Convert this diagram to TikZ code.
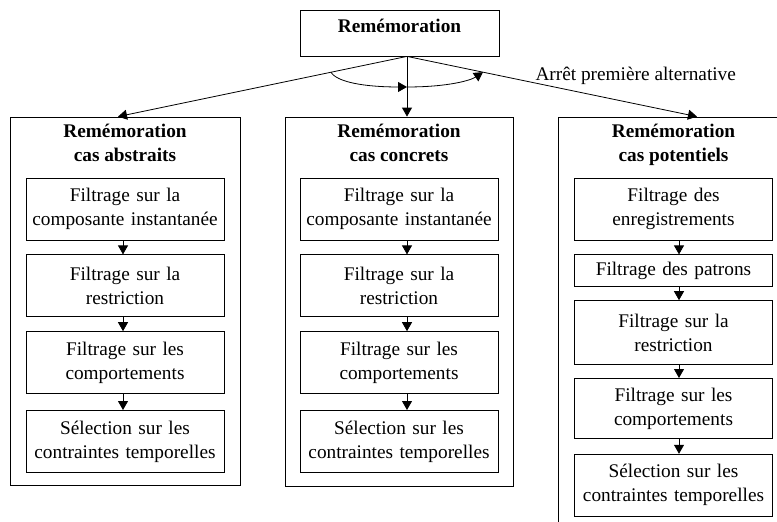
\documentclass[tikz,border=0pt]{standalone}
\usepackage{fontspec}
\setmainfont{Liberation Serif}
\usetikzlibrary{positioning,arrows.meta}

\begin{document}
\begin{tikzpicture}
[x=1pt, y=-1pt,
every node/.style={font=\fontsize{19.3}{24}\selectfont},
topnode/.style={rectangle, draw, line width=0.8pt, minimum width=199pt, inner sep=0pt, text height=22pt, text depth=24pt, font=\fontsize{19.3}{24}\selectfont\bfseries},
colnode/.style={rectangle, draw, line width=0.8pt, minimum width=230pt, minimum height=368pt},
titlenode/.style={align=center, inner sep=0pt, font=\fontsize{19.3}{24}\selectfont\bfseries},
filternode/.style={rectangle, draw, line width=0.8pt, text width=190pt, inner sep=4pt, align=center, minimum height=62pt},
arr/.style={-{Triangle[length=9pt, width=10pt]}, line width=0.8pt},
]
\useasboundingbox (0,0) rectangle (777,522);
\clip (0,0) rectangle (777,522);

\node[topnode] (rem) at (399.5,33) {Remémoration};

% les trois colonnes
\node[colnode] (abs) at (125,301) {};
\node[colnode, minimum width=228pt, minimum height=369pt] (con) at (399,301.5) {};
\node[colnode, minimum height=418pt] (pot) at (673.5,326) {};

\node[titlenode] (tabs) [below=7.5pt of abs.north] {Remémoration\\cas abstraits};
\node[titlenode] (tcon) [below=7.5pt of con.north] {Remémoration\\cas concrets};
\node[titlenode] (tpot) [below=7.5pt of pot.north] {Remémoration\\cas potentiels};

% cas abstraits
\node[filternode] (abs1) [below=61pt of abs.north] {Filtrage sur la\\composante instantanée};
\node[filternode] (abs2) [below=14pt of abs1] {Filtrage sur la\\restriction};
\node[filternode] (abs3) [below=14pt of abs2] {Filtrage sur les\\comportements};
\node[filternode] (abs4) [below=16pt of abs3] {Sélection sur les\\contraintes temporelles};

% cas concrets
\node[filternode] (con1) [below=61pt of con.north] {Filtrage sur la\\composante instantanée};
\node[filternode] (con2) [below=14pt of con1] {Filtrage sur la\\restriction};
\node[filternode] (con3) [below=14pt of con2] {Filtrage sur les\\comportements};
\node[filternode] (con4) [below=16pt of con3] {Sélection sur les\\contraintes temporelles};

% cas potentiels
\node[filternode] (pot1) [below=61pt of pot.north] {Filtrage des\\enregistrements};
\node[filternode, minimum height=32pt] (pot2) [below=14pt of pot1] {Filtrage des patrons};
\node[filternode, minimum height=64pt] (pot3) [below=13pt of pot2] {Filtrage sur la\\restriction};
\node[filternode, minimum height=60pt] (pot4) [below=13pt of pot3] {Filtrage sur les\\comportements};
\node[filternode] (pot5) [below=15pt of pot4] {Sélection sur les\\contraintes temporelles};

\coordinate (o) at ([xshift=7.5pt]rem.south);
\draw[arr] (o) -- ([xshift=-7pt]abs.north) coordinate[pos=0.263] (l);
\draw[arr] (o) -- ([xshift=8pt]con.north) coordinate[pos=0.508] (m);
\draw[arr] (o) -- ([xshift=23.5pt]pot.north) coordinate[pos=0.262] (r);

\draw[arr] (l) .. controls +(6,10) and +(-42,0) .. (m);
\draw[arr] (m) .. controls +(42,0) and +(-12,8) .. (r);
\node[anchor=base west] (alt) at (532,80) {Arrêt première alternative};

\draw[arr] ([xshift=-2pt]abs1.south) -- ([xshift=-2pt]abs2.north);
\draw[arr] ([xshift=-2pt]abs2.south) -- ([xshift=-2pt]abs3.north);
\draw[arr] ([xshift=-2pt]abs3.south) -- ([xshift=-2pt]abs4.north);

\draw[arr] ([xshift=8pt]con1.south) -- ([xshift=8pt]con2.north);
\draw[arr] ([xshift=8pt]con2.south) -- ([xshift=8pt]con3.north);
\draw[arr] ([xshift=8pt]con3.south) -- ([xshift=8pt]con4.north);

\draw[arr] ([xshift=5.5pt]pot1.south) -- ([xshift=5.5pt]pot2.north);
\draw[arr] ([xshift=5.5pt]pot2.south) -- ([xshift=5.5pt]pot3.north);
\draw[arr] ([xshift=5.5pt]pot3.south) -- ([xshift=5.5pt]pot4.north);
\draw[arr] ([xshift=5.5pt]pot4.south) -- ([xshift=5.5pt]pot5.north);
\end{tikzpicture}
\end{document}
